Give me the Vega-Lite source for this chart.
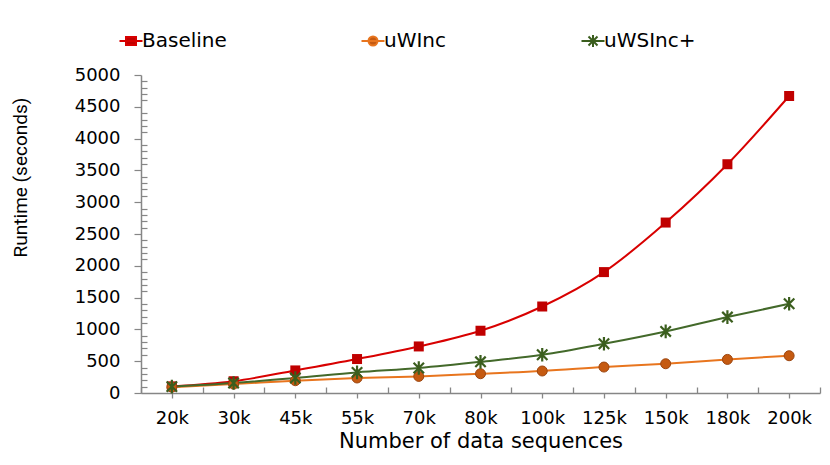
{
  "$schema": "https://vega.github.io/schema/vega-lite/v6.json",
  "width": 679,
  "height": 318,
  "autosize": {"type": "none"},
  "padding": {"left": 141, "top": 75, "right": 10, "bottom": 72},
  "background": "white",
  "data": {
    "values": [
      {"n": "20k", "series": "Baseline", "runtime": 104},
      {"n": "30k", "series": "Baseline", "runtime": 185},
      {"n": "45k", "series": "Baseline", "runtime": 355},
      {"n": "55k", "series": "Baseline", "runtime": 534},
      {"n": "70k", "series": "Baseline", "runtime": 732},
      {"n": "80k", "series": "Baseline", "runtime": 979},
      {"n": "100k", "series": "Baseline", "runtime": 1360},
      {"n": "125k", "series": "Baseline", "runtime": 1901},
      {"n": "150k", "series": "Baseline", "runtime": 2680},
      {"n": "180k", "series": "Baseline", "runtime": 3597},
      {"n": "200k", "series": "Baseline", "runtime": 4670},
      {"n": "20k", "series": "uWInc", "runtime": 92},
      {"n": "30k", "series": "uWInc", "runtime": 140},
      {"n": "45k", "series": "uWInc", "runtime": 193},
      {"n": "55k", "series": "uWInc", "runtime": 236},
      {"n": "70k", "series": "uWInc", "runtime": 261},
      {"n": "80k", "series": "uWInc", "runtime": 303},
      {"n": "100k", "series": "uWInc", "runtime": 346},
      {"n": "125k", "series": "uWInc", "runtime": 408},
      {"n": "150k", "series": "uWInc", "runtime": 460},
      {"n": "180k", "series": "uWInc", "runtime": 528},
      {"n": "200k", "series": "uWInc", "runtime": 586},
      {"n": "20k", "series": "uWSInc+", "runtime": 100},
      {"n": "30k", "series": "uWSInc+", "runtime": 157},
      {"n": "45k", "series": "uWSInc+", "runtime": 236},
      {"n": "55k", "series": "uWSInc+", "runtime": 324},
      {"n": "70k", "series": "uWSInc+", "runtime": 393},
      {"n": "80k", "series": "uWSInc+", "runtime": 490},
      {"n": "100k", "series": "uWSInc+", "runtime": 602},
      {"n": "125k", "series": "uWSInc+", "runtime": 774},
      {"n": "150k", "series": "uWSInc+", "runtime": 968},
      {"n": "180k", "series": "uWSInc+", "runtime": 1194},
      {"n": "200k", "series": "uWSInc+", "runtime": 1403}
    ]
  },
  "encoding": {
    "x": {
      "field": "n",
      "type": "ordinal",
      "scale": {
        "type": "point",
        "padding": 0,
        "domain": ["|0", "20k", "|1", "30k", "|2", "45k", "|3", "55k", "|4", "70k", "|5", "80k", "|6", "100k", "|7", "125k", "|8", "150k", "|9", "180k", "|10", "200k", "|11"]
      },
      "axis": {
        "orient": "bottom",
        "title": "Number of data sequences",
        "titleFont": "DejaVu Sans",
        "titleFontSize": 21,
        "titleFontWeight": "normal",
        "titleColor": "black",
        "titlePadding": 3,
        "labelFont": "DejaVu Sans",
        "labelFontSize": 18,
        "labelColor": "black",
        "labelAngle": 0,
        "labelPadding": 11,
        "labelOverlap": false,
        "labelExpr": "indexof(datum.label, '|') === 0 ? '' : datum.label",
        "tickSize": {"condition": {"test": "indexof(datum.value, '|') === 0", "value": -6}, "value": 5},
        "tickColor": "#868686",
        "tickWidth": 1.3,
        "domainColor": "#868686",
        "domainWidth": 1.5,
        "grid": false
      }
    },
    "y": {
      "field": "runtime",
      "type": "quantitative",
      "scale": {"domain": [0, 5000], "nice": false},
      "axis": {
        "orient": "left",
        "title": "Runtime (seconds)",
        "titleFont": "Roboto",
        "titleFontSize": 19,
        "titleFontWeight": "normal",
        "titleColor": "black",
        "titlePadding": 44,
        "titleY": 102,
        "labelFont": "DejaVu Sans",
        "labelFontSize": 18,
        "labelColor": "black",
        "labelPadding": 14,
        "labelOverlap": false,
        "labelFlush": false,
        "format": "d",
        "labelExpr": "datum.value % 500 === 0 ? datum.label : ''",
        "values": [0, 100, 200, 300, 400, 500, 600, 700, 800, 900, 1000, 1100, 1200, 1300, 1400, 1500, 1600, 1700, 1800, 1900, 2000, 2100, 2200, 2300, 2400, 2500, 2600, 2700, 2800, 2900, 3000, 3100, 3200, 3300, 3400, 3500, 3600, 3700, 3800, 3900, 4000, 4100, 4200, 4300, 4400, 4500, 4600, 4700, 4800, 4900, 5000],
        "tickSize": {"condition": {"test": "datum.value % 500 === 0", "value": 7}, "value": -6},
        "tickColor": "#868686",
        "tickWidth": 1.2,
        "domainColor": "#868686",
        "domainWidth": 1.5,
        "grid": false
      }
    }
  },
  "layer": [
    {
      "mark": {"type": "line", "interpolate": "monotone", "strokeWidth": 2},
      "encoding": {
        "color": {
          "field": "series",
          "type": "nominal",
          "scale": {"range": ["#D80000", "#E8751E", "#43692A"]},
          "legend": null
        }
      }
    },
    {
      "transform": [{"filter": "datum.series === 'Baseline'"}],
      "mark": {"type": "point", "shape": "square", "filled": true, "size": 100, "color": "#C00000", "opacity": 1},
      "encoding": {}
    },
    {
      "transform": [{"filter": "datum.series === 'uWInc'"}],
      "mark": {"type": "point", "shape": "circle", "filled": true, "size": 100, "fill": "#C55A11", "stroke": "#9C4610", "strokeWidth": 1, "opacity": 1},
      "encoding": {}
    },
    {
      "transform": [{"filter": "datum.series === 'uWSInc+'"}],
      "mark": {
        "type": "point",
        "filled": false,
        "size": 169,
        "strokeWidth": 2.2,
        "color": "#3B5E1E",
        "opacity": 1,
        "shape": "M-0.8,-0.8L0.8,0.8M-0.8,0.8L0.8,-0.8M0,-1.05L0,1.05"
      },
      "encoding": {}
    },
    {
      "mark": {"type": "point", "filled": true, "size": 0, "opacity": 1, "strokeWidth": 2},
      "encoding": {
        "fill": {
          "field": "series",
          "type": "nominal",
          "scale": {"domain": ["Baseline", "uWInc", "uWSInc+"], "range": ["#C00000", "#C55A11", "#3B5E1E"]},
          "legend": {
            "orient": "none",
            "direction": "horizontal",
            "legendX": -20,
            "legendY": -44,
            "title": null,
            "labelFont": "DejaVu Sans",
            "labelFontSize": 20,
            "labelColor": "black",
            "labelOffset": 1,
            "symbolSize": 100,
            "symbolStrokeWidth": 2,
            "symbolOpacity": 1,
            "columnPadding": 130
          }
        },
        "stroke": {
          "field": "series",
          "type": "nominal",
          "scale": {"domain": ["Baseline", "uWInc", "uWSInc+"], "range": ["#D80000", "#E8751E", "#3B5E1E"]}
        },
        "shape": {
          "field": "series",
          "type": "nominal",
          "scale": {
            "domain": ["Baseline", "uWInc", "uWSInc+"],
            "range": [
              "M-2.3,0H2.3M-1,-0.8H1V0.8H-1Z",
              "M-2.3,0H2.3M-0.9,0A0.9,0.9 0 1,0 0.9,0A0.9,0.9 0 1,0 -0.9,0Z",
              "M-2.3,0H2.3M-0.9,-0.9L0.9,0.9M-0.9,0.9L0.9,-0.9M0,-1.2L0,1.2"
            ]
          }
        }
      }
    }
  ],
  "config": {"view": {"stroke": null}}
}
